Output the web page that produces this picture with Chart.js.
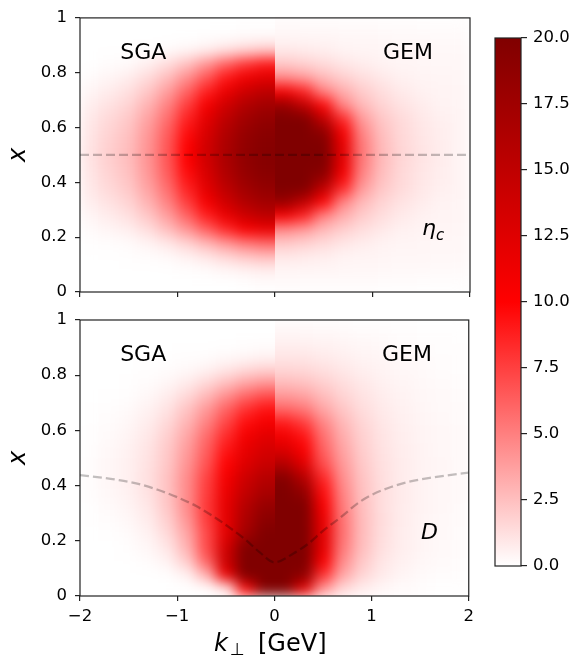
<!DOCTYPE html>
<html><head><meta charset="utf-8">
<script src="https://cdn.jsdelivr.net/npm/chart.js@4.4.1/dist/chart.umd.min.js"></script>
<style>
html,body{margin:0;padding:0;background:#fff;}
#wrap{position:relative;width:574px;height:656px;overflow:hidden;background:#fff;}
canvas{position:absolute;}
.clip{position:absolute;overflow:hidden;}
.heat{filter:blur(7px);}
</style></head><body>
<div id="wrap">
<div class="clip" style="left:80px;top:16px;width:195px;height:276px"><canvas id="topL" class="heat" width="574" height="656" style="left:-80px;top:-16px;width:574px;height:656px"></canvas></div>
<div class="clip" style="left:275px;top:16px;width:195px;height:276px"><canvas id="topR" class="heat" width="574" height="656" style="left:-275px;top:-16px;width:574px;height:656px"></canvas></div>
<div class="clip" style="left:80px;top:320px;width:195px;height:276px"><canvas id="botL" class="heat" width="574" height="656" style="left:-80px;top:-320px;width:574px;height:656px"></canvas></div>
<div class="clip" style="left:275px;top:320px;width:195px;height:276px"><canvas id="botR" class="heat" width="574" height="656" style="left:-275px;top:-320px;width:574px;height:656px"></canvas></div>
<canvas id="top" width="480" height="320" style="left:0;top:0;width:480px;height:320px"></canvas>
<canvas id="bot" width="480" height="356" style="left:0;top:300px;width:480px;height:356px"></canvas>
<canvas id="cb" width="94" height="656" style="left:480px;top:0;width:94px;height:656px"></canvas>
</div>
<script>
// ---------------- data ----------------
const kAbs = [0.1,0.3,0.5,0.7,0.9,1.1,1.3,1.5,1.7,1.9];
const xEdges = [0,0.05,0.1,0.15,0.2,0.25,0.3,0.35,0.4,0.45,0.5,0.55,0.6,0.65,0.7,0.75,0.8,0.85,0.9,0.95,1];

// rows: x = 0.025 (bottom) ... 0.975 (top); columns: |k| = 0.1 ... 1.9
const etaSGA = [
[0.1,0.04,0.01,0,0,0,0,0,0,0],
[0.58,0.45,0.26,0.12,0.04,0.01,0,0,0,0],
[2.45,2.07,1.49,0.9,0.47,0.2,0.07,0.02,0.01,0],
[5.9,5.2,4.05,2.78,1.68,0.89,0.42,0.17,0.06,0.02],
[11.5,10.4,8.4,6.2,4.1,2.5,1.3,0.65,0.38,0.18],
[15.2,13.9,11.6,8.8,6.1,3.8,2.2,1.2,0.75,0.4],
[17.3,16.1,13.8,10.7,7.6,4.9,3.0,1.7,1.15,0.65],
[18.5,17.4,15.2,12.1,8.7,5.7,3.6,2.1,1.5,0.85],
[19.2,18.2,16.1,13.0,9.5,6.3,4.0,2.4,1.7,1.0],
[19.5,18.6,16.6,13.6,10.0,6.6,4.2,2.6,1.9,1.1],
[19.5,18.6,16.6,13.6,10.0,6.6,4.2,2.6,1.9,1.1],
[19.2,18.2,16.1,13.0,9.5,6.3,4.0,2.4,1.7,1.0],
[18.5,17.4,15.2,12.1,8.7,5.7,3.6,2.1,1.5,0.85],
[17.3,16.1,13.8,10.7,7.6,4.9,3.0,1.7,1.15,0.65],
[15.2,13.9,11.6,8.8,6.1,3.8,2.2,1.2,0.75,0.4],
[12.3,11.2,9.1,6.6,4.4,2.6,1.4,0.7,0.38,0.15],
[9.0,7.9,6.1,4.1,2.4,1.3,0.6,0.2,0.1,0],
[2.0,1.6,1.1,0.6,0.3,0.1,0.05,0,0,0],
[0.2,0.15,0.09,0.04,0.01,0,0,0,0,0],
[0.05,0.02,0,0,0,0,0,0,0,0]
];
const etaGEM = [
[0.18,0.17,0.16,0.15,0.14,0.12,0.11,0.09,0.07,0.06],
[0.36,0.35,0.34,0.32,0.3,0.28,0.25,0.22,0.2,0.18],
[0.86,0.76,0.61,0.45,0.41,0.36,0.33,0.31,0.28,0.26],
[2.1,1.8,1.4,1.0,0.71,0.47,0.41,0.36,0.33,0.31],
[4.6,3.9,2.7,1.9,1.3,0.86,0.56,0.43,0.38,0.34],
[10.6,8.7,4.9,3.2,2.0,1.3,0.84,0.55,0.42,0.38],
[18.1,15.0,9.8,4.8,2.7,1.7,1.1,0.73,0.46,0.41],
[24.5,21.0,15.0,8.4,3.9,2.2,1.4,0.9,0.59,0.43],
[28.5,25.0,19.0,10.8,4.8,2.5,1.5,1.0,0.66,0.44],
[30.5,27.0,20.5,12.0,5.2,2.7,1.6,1.04,0.7,0.45],
[30.5,27.0,20.5,12.0,5.2,2.7,1.6,1.04,0.7,0.45],
[28.5,25.0,19.0,10.8,4.8,2.5,1.5,1.0,0.66,0.44],
[24.5,21.0,15.0,8.4,3.9,2.2,1.4,0.9,0.59,0.43],
[18.1,15.0,9.8,4.8,2.7,1.7,1.1,0.73,0.46,0.41],
[10.6,8.7,4.9,3.2,2.0,1.3,0.84,0.55,0.42,0.38],
[4.6,3.9,2.7,1.9,1.3,0.86,0.56,0.43,0.38,0.34],
[2.1,1.8,1.4,1.0,0.71,0.47,0.41,0.36,0.33,0.31],
[0.86,0.76,0.61,0.45,0.41,0.36,0.33,0.31,0.28,0.26],
[0.36,0.35,0.34,0.32,0.3,0.28,0.25,0.22,0.2,0.18],
[0.18,0.17,0.16,0.15,0.14,0.12,0.11,0.09,0.07,0.06]
];
const dSGA = [
[34.2,9.7,0.8,0,0,0,0,0,0,0],
[42.6,27.3,11.3,3.0,0.5,0.05,0,0,0,0],
[32.8,24.8,14.1,6.1,2.0,0.5,0.1,0,0,0],
[25.3,20.5,13.4,7.1,3.0,1.0,0.3,0.06,0,0],
[20.5,17.2,12.1,7.1,3.5,1.5,0.5,0.15,0.04,0],
[19.1,16.4,12.0,7.6,4.1,1.9,0.75,0.3,0.1,0.02],
[18.2,15.8,11.9,7.8,4.5,2.2,0.96,0.45,0.2,0.05],
[16.7,14.7,11.3,7.6,4.5,2.3,1.1,0.55,0.26,0.08],
[15.8,13.9,10.8,7.4,4.5,2.4,1.2,0.6,0.3,0.1],
[14.3,12.6,9.9,6.8,4.2,2.2,1.15,0.6,0.3,0.1],
[13.3,11.8,9.2,6.3,3.9,2.1,1.05,0.55,0.28,0.09],
[12.3,10.9,8.4,5.8,3.5,1.9,0.9,0.45,0.2,0.06],
[10.8,9.5,7.3,4.9,2.9,1.5,0.7,0.3,0.12,0.03],
[9.3,8.1,6.1,4.0,2.3,1.1,0.5,0.18,0.06,0.02],
[6.9,5.9,4.3,2.7,1.5,0.7,0.27,0.09,0.03,0],
[3.9,3.3,2.3,1.4,0.7,0.3,0.1,0.03,0,0],
[1.5,1.2,0.8,0.4,0.2,0.06,0.02,0,0,0],
[0.3,0.2,0.1,0.05,0.02,0,0,0,0,0],
[0.05,0.03,0.01,0,0,0,0,0,0,0],
[0,0,0,0,0,0,0,0,0,0]
];
const dGEM = [
[21,12,4,1.5,0.7,0.35,0.2,0.1,0.05,0.03],
[25,19,8,3.5,1.6,0.8,0.4,0.2,0.12,0.08],
[28,23,10.5,4.5,2.1,1.0,0.55,0.3,0.18,0.12],
[30,25,12,5.2,2.5,1.2,0.65,0.38,0.23,0.15],
[30,25,12,5.5,2.6,1.3,0.72,0.42,0.26,0.17],
[28,23.5,11.5,5.4,2.6,1.35,0.75,0.45,0.28,0.19],
[25,21,10.5,5.1,2.5,1.3,0.76,0.47,0.3,0.2],
[22,18.5,9.5,4.8,2.4,1.3,0.77,0.48,0.32,0.22],
[19.5,16,8.5,4.4,2.3,1.25,0.76,0.49,0.33,0.24],
[16,12.5,7,4.0,2.1,1.2,0.74,0.49,0.34,0.25],
[13,10.5,6.2,3.6,1.95,1.12,0.7,0.47,0.33,0.25],
[11,9.3,5.6,3.2,1.8,1.05,0.66,0.44,0.31,0.23],
[9,7.7,4.8,2.8,1.6,0.95,0.6,0.4,0.28,0.2],
[6,5.3,3.5,2.2,1.35,0.82,0.53,0.36,0.25,0.18],
[4,3.6,2.6,1.7,1.1,0.7,0.46,0.32,0.22,0.15],
[2.5,2.3,1.8,1.25,0.85,0.56,0.38,0.26,0.18,0.12],
[1.5,1.4,1.15,0.85,0.6,0.42,0.29,0.2,0.13,0.09],
[0.9,0.85,0.72,0.56,0.41,0.3,0.21,0.14,0.09,0.06],
[0.5,0.48,0.42,0.34,0.26,0.19,0.13,0.09,0.06,0.04],
[0.25,0.24,0.21,0.17,0.13,0.1,0.07,0.05,0.03,0.02]
];

const etaLineK = [-2, 2];
const etaLineX = [0.5, 0.5];
const dLineK = [-2,-1.8,-1.6,-1.4,-1.2,-1.0,-0.8,-0.6,-0.45,-0.3,-0.15,0,0.2,0.35,0.5,0.7,0.85,1.0,1.2,1.4,1.6,1.8,2.0];
const dLineX = [0.438,0.430,0.420,0.406,0.385,0.358,0.325,0.282,0.245,0.205,0.158,0.122,0.155,0.19,0.236,0.29,0.334,0.366,0.395,0.415,0.428,0.438,0.447];

const xTicks = [-2,-1,0,1,2];
const xTickLabels = ['\u22122','\u22121','0','1','2'];
const yTicks = [0,0.2,0.4,0.6,0.8,1];
const yTickLabels = ['0','0.2','0.4','0.6','0.8','1'];
const cbTicks = [0,2.5,5,7.5,10,12.5,15,17.5,20];
const cbTickLabels = ['0.0','2.5','5.0','7.5','10.0','12.5','15.0','17.5','20.0'];

const modelLabels = ['SGA','GEM'];
const labelPos = { sga:[-1.35,0.851], gem:[1.364,0.851], tag:[1.508,0.205] };

// ---------------- styling helpers ----------------
const FONT = 'DejaVu Sans';
const vMin = cbTicks[0], vMax = cbTicks[cbTicks.length-1];
const PANEL = { top:{t:16,b:292}, bot:{t:320,b:596}, left:80, right:470 };
function cmap(v){
  const t = Math.max(0, Math.min(1, (v - vMin)/(vMax - vMin)));
  let r,g,b;
  if (t <= 0.5){ const s=t/0.5; r=255; g=b=Math.round(255*(1-s)); }
  else { const s=(t-0.5)/0.5; r=Math.round(255*(1-0.5*s)); g=b=0; }
  return 'rgb('+r+','+g+','+b+')';
}

// one half-model (symmetric in k) drawn on both sides; the visible half is clipped by its container
function heatDatasets(tbl){
  const ds = [];
  for (let i=0;i<tbl.length;i++){
    const data=[], colors=[];
    for (let j=kAbs.length-1;j>=0;j--){ data.push({x:-kAbs[j], y:[xEdges[i],xEdges[i+1]]}); colors.push(cmap(tbl[i][j])); }
    for (let j=0;j<kAbs.length;j++){ data.push({x:kAbs[j], y:[xEdges[i],xEdges[i+1]]}); colors.push(cmap(tbl[i][j])); }
    ds.push({data, backgroundColor:colors, borderWidth:0, barPercentage:1, categoryPercentage:1, grouped:false});
  }
  return ds;
}
function heatChart(id, tbl, p){
  return new Chart(document.getElementById(id), {
    type:'bar',
    data:{datasets:heatDatasets(tbl)},
    options:{
      responsive:false, animation:false, devicePixelRatio:1,
      layout:{padding:{left:PANEL.left, right:574-PANEL.right, top:p.t, bottom:656-p.b}},
      plugins:{legend:{display:false}, tooltip:{enabled:false}},
      scales:{
        x:{type:'linear', min:-2, max:2, offset:false, display:false},
        y:{type:'linear', min:0, max:1, display:false}
      }
    }
  });
}

function lineDataset(ks, xs){
  return {data:ks.map((k,i)=>({x:k,y:xs[i]})), borderColor:'rgba(0,0,0,0.24)', borderWidth:2.3,
    borderDash:[9,4], pointRadius:0, fill:false, cubicInterpolationMode:'monotone'};
}

function framePlugin(tag, isBottom, offY){
  return {
    id:'frame',
    afterDraw(chart){
      const c = chart.ctx, a = chart.chartArea, sx = chart.scales.x, sy = chart.scales.y;
      c.save();
      c.strokeStyle = '#222'; c.lineWidth = 1.2;
      c.strokeRect(a.left, a.top, a.right-a.left, a.bottom-a.top);
      c.fillStyle = '#000';
      c.textBaseline = 'alphabetic';
      c.font = '22px "'+FONT+'"';
      c.textAlign = 'center';
      c.fillText(modelLabels[0], sx.getPixelForValue(labelPos.sga[0]), sy.getPixelForValue(labelPos.sga[1]));
      c.fillText(modelLabels[1], sx.getPixelForValue(labelPos.gem[0]), sy.getPixelForValue(labelPos.gem[1]));
      c.textAlign = 'left';
      const tx = sx.getPixelForValue(labelPos.tag[0]), ty = sy.getPixelForValue(labelPos.tag[1]);
      if (tag === 'eta'){
        c.font = 'italic 22px "'+FONT+'"';
        c.fillText('\u03B7', tx, ty - 1);
        const w = c.measureText('\u03B7').width;
        c.font = 'italic 15px "'+FONT+'"';
        c.fillText('c', tx + w, ty + 4);
      } else {
        c.font = 'italic 22px "'+FONT+'"';
        c.fillText('D', tx, ty);
      }
      if (isBottom){
        const by = 650.5 - offY;
        c.font = 'italic 24px "'+FONT+'"';
        c.fillText('k', 214, by);
        c.font = '17px "'+FONT+'"';
        c.fillText('\u22A5', 230, by + 4);
        c.font = '24px "'+FONT+'"';
        c.fillText('[GeV]', 258, by);
      }
      c.restore();
    }
  };
}

function axesChart(canvasId, lk, lx, tag, isBottom, canvasH, offY, p){
  const gridOpts = {display:true, drawOnChartArea:false, drawTicks:true, tickLength:5, color:'#222', lineWidth:1.2, offset:false};
  return new Chart(document.getElementById(canvasId), {
    type:'line',
    data:{datasets:[lineDataset(lk,lx)]},
    options:{
      responsive:false, animation:false, devicePixelRatio:1,
      layout:{padding:{left:0,right:10,top:p.t-offY,bottom:0}},
      plugins:{legend:{display:false}, tooltip:{enabled:false}},
      scales:{
        x:{type:'linear', min:-2, max:2, offset:false,
          afterBuildTicks:s=>{s.ticks = xTicks.map(v=>({value:v}));},
          ticks:{display:isBottom, autoSkip:false, maxRotation:0, padding:6, color:'#000',
            font:{family:FONT,size:16.5}, callback:v=>xTickLabels[xTicks.indexOf(v)]},
          grid:gridOpts, border:{display:false},
          afterFit:s=>{s.height = canvasH - (p.b - offY);}
        },
        y:{type:'linear', min:0, max:1,
          afterBuildTicks:s=>{s.ticks = yTicks.map(v=>({value:v}));},
          ticks:{autoSkip:false, padding:8, color:'#000', font:{family:FONT,size:16.5},
            callback:v=>yTickLabels[yTicks.indexOf(v)]},
          title:{display:true, text:'x', color:'#000', font:{family:FONT,size:24,style:'italic'}, padding:{top:4,bottom:0}},
          grid:gridOpts, border:{display:false},
          afterFit:s=>{s.width = PANEL.left;}
        }
      }
    },
    plugins:[framePlugin(tag, isBottom, offY)]
  });
}

heatChart('topL', etaSGA, PANEL.top);
heatChart('topR', etaGEM, PANEL.top);
heatChart('botL', dSGA, PANEL.bot);
heatChart('botR', dGEM, PANEL.bot);
axesChart('top', etaLineK, etaLineX, 'eta', false, 320, 0, PANEL.top);
axesChart('bot', dLineK, dLineX, 'D', true, 356, 300, PANEL.bot);

// colorbar
new Chart(document.getElementById('cb'), {
  type:'bar',
  data:{labels:['v'], datasets:[{data:[[vMin, vMax]], borderWidth:0, barPercentage:1, categoryPercentage:1,
    backgroundColor:(ctx)=>{
      const ch = ctx.chart, a = ch.chartArea;
      if (!a) return 'rgba(0,0,0,0)';
      const g = ch.ctx.createLinearGradient(0, a.bottom, 0, a.top);
      g.addColorStop(0, cmap(vMin)); g.addColorStop(0.5, cmap((vMin+vMax)/2)); g.addColorStop(1, cmap(vMax));
      return g;
    }}]},
  options:{
    responsive:false, animation:false, devicePixelRatio:1,
    layout:{padding:{left:15,right:0,top:38,bottom:90}},
    plugins:{legend:{display:false}, tooltip:{enabled:false}},
    scales:{
      x:{display:false},
      y:{position:'right', min:vMin, max:vMax,
        afterBuildTicks:s=>{s.ticks = cbTicks.map(v=>({value:v}));},
        ticks:{autoSkip:false, padding:6, color:'#000', font:{family:FONT,size:16.5},
          callback:v=>cbTickLabels[cbTicks.indexOf(v)]},
        grid:{display:true, drawOnChartArea:false, drawTicks:true, tickLength:6, color:'#222', lineWidth:1.2},
        border:{display:false},
        afterFit:s=>{s.width = 53;}
      }
    }
  },
  plugins:[{id:'cbframe', afterDraw(chart){ const c=chart.ctx,a=chart.chartArea; c.save(); c.strokeStyle='#222'; c.lineWidth=1.2; c.strokeRect(a.left,a.top,a.right-a.left,a.bottom-a.top); c.restore(); }}]
});
</script>
</body></html>
